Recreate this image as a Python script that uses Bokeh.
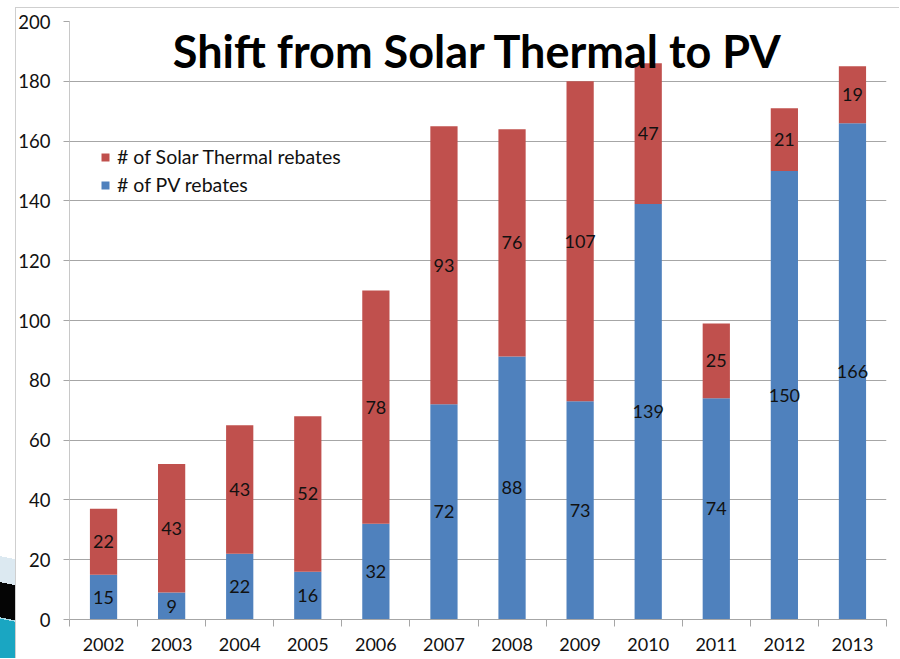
from bokeh.plotting import figure
from bokeh.models import (ColumnDataSource, FixedTicker, Legend, LegendItem,
                          Label, LabelSet, Range1d)
from bokeh.core.properties import value
from bokeh.embed import file_html
from bokeh.resources import INLINE

years = ["2002", "2003", "2004", "2005", "2006", "2007", "2008", "2009",
         "2010", "2011", "2012", "2013"]
pv = [15, 9, 22, 16, 32, 72, 88, 73, 139, 74, 150, 166]
thermal = [22, 43, 43, 52, 78, 93, 76, 107, 47, 25, 21, 19]
y_ticks = [0, 20, 40, 60, 80, 100, 120, 140, 160, 180, 200]
title_text = "Shift from Solar Thermal to PV"
pv_name = "# of PV rebates"
thermal_name = "# of Solar Thermal rebates"

BLUE = "#4F81BD"
RED = "#C0504D"
FONT = "Lato"

xc = [i + 0.5 for i in range(len(years))]
top_total = [a + b for a, b in zip(pv, thermal)]
src = ColumnDataSource(dict(
    x=xc, pv=pv, thermal=thermal, total=top_total,
    pv_mid=[a / 2 for a in pv],
    th_mid=[a + b / 2 for a, b in zip(pv, thermal)],
    pv_lbl=[str(v) for v in pv], th_lbl=[str(v) for v in thermal],
))

p = figure(width=899, height=658, output_backend="svg", toolbar_location=None,
           x_range=Range1d(0, len(years)), y_range=Range1d(0, 200),
           min_border_left=69, min_border_right=13, min_border_top=21,
           min_border_bottom=39, tools="")
p.outline_line_color = None
p.background_fill_color = "white"
p.border_fill_alpha = 0

# page decoration: chart-area border (top/left) and slide ornament at lower left
p.styles = {
    "background-color": "white",
    "background-image": (
        "linear-gradient(#cfcfcf, #cfcfcf), "
        "linear-gradient(#cfcfcf, #cfcfcf), "
        "linear-gradient(191deg, rgba(255,255,255,0) 0px, rgba(255,255,255,0) 4px, "
        "#dce9f1 4px, #dce9f1 29.5px, #050505 29.5px, #050505 64px, "
        "#a8dbe7 64px, #a8dbe7 65.5px, #1aa6c2 65.5px, #1aa6c2 100%)"
    ),
    "background-size": "1px 100%, 100% 1px, 15px 104px",
    "background-position": "15px 7px, 15px 7px, 0px 555px",
    "background-repeat": "no-repeat",
}

r_pv = p.vbar(x="x", top="pv", bottom=0, width=0.4, source=src,
              fill_color=BLUE, line_color=None)
r_th = p.vbar(x="x", top="total", bottom="pv", width=0.4, source=src,
              fill_color=RED, line_color=None)

lbl_style = dict(text_font=value(FONT), text_font_size="18px", text_color="#111111",
                 text_align="center", text_baseline="middle")
p.add_layout(LabelSet(x="x", y="pv_mid", text="pv_lbl", source=src, **lbl_style))
p.add_layout(LabelSet(x="x", y="th_mid", text="th_lbl", source=src, **lbl_style))

# axes
xa = p.xaxis[0]
xa.ticker = FixedTicker(ticks=xc, minor_ticks=list(range(len(years) + 1)))
xa.major_label_overrides = {x: y for x, y in zip(xc, years)}
xa.major_tick_line_color = None
xa.major_tick_out = 7
xa.minor_tick_line_color = "#a6a6a6"
xa.minor_tick_out = 7
xa.minor_tick_in = 0
xa.axis_line_color = "#a6a6a6"
xa.major_label_standoff = 11
xa.major_label_text_font = FONT
xa.major_label_text_font_size = "18px"
xa.major_label_text_color = "#111111"

ya = p.yaxis[0]
ya.ticker = FixedTicker(ticks=y_ticks)
ya.major_tick_out = 6
ya.major_tick_in = 0
ya.minor_tick_line_color = None
ya.major_tick_line_color = "#a6a6a6"
ya.axis_line_color = "#c8c8c8"
ya.major_label_standoff = 13
ya.major_label_text_font = FONT
ya.major_label_text_font_size = "18.5px"
ya.major_label_text_color = "#111111"

p.xgrid.grid_line_color = None
p.ygrid.ticker = FixedTicker(ticks=y_ticks)
p.ygrid.grid_line_color = "#a6a6a6"

# title inside the plot
p.add_layout(Label(x=len(years) / 2, y=190, text=title_text,
                   text_font=FONT, text_font_style="bold", text_font_size="45px",
                   text_align="center", text_baseline="middle",
                   text_color="#000000"))

legend = Legend(items=[LegendItem(label=thermal_name, renderers=[r_th]),
                       LegendItem(label=pv_name, renderers=[r_pv])],
                location=(31, 423), orientation="vertical",
                glyph_width=10, glyph_height=10, label_height=20,
                spacing=5, padding=0, margin=0, label_standoff=7,
                label_text_font=FONT, label_text_font_size="19.5px",
                label_text_color="#111111",
                border_line_color=None, background_fill_alpha=0)
p.add_layout(legend)

open("out.html", "w").write(file_html(p, INLINE))
